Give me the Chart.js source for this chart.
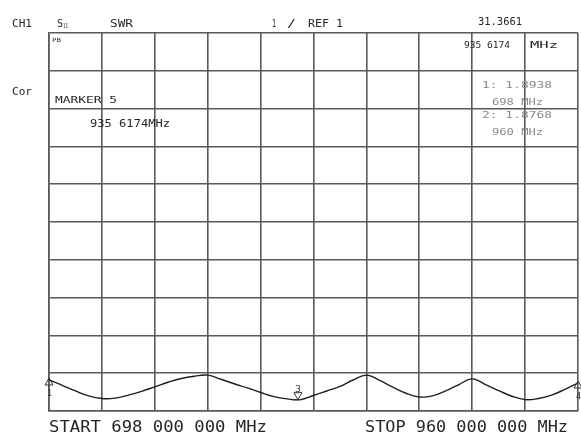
<!DOCTYPE html>
<html>
<head>
<meta charset="utf-8">
<script src="https://cdn.jsdelivr.net/npm/chart.js@4/dist/chart.umd.min.js"></script>
<style>
  html, body { margin: 0; padding: 0; background: #fff; }
  #wrap { width: 581px; height: 435px; }
</style>
</head>
<body>
<div id="wrap"><canvas id="chart" width="581" height="435"></canvas></div>
<script>
// sweep 698 .. 960 MHz, SWR trace (41 points)
const freqs = [698, 704.55, 711.1, 717.65, 724.2, 730.75, 737.3, 743.85, 750.4, 756.95,
  763.5, 770.05, 776.6, 783.15, 789.7, 796.25, 802.8, 809.35, 815.9, 822.45,
  829, 835.55, 842.1, 848.65, 855.2, 861.75, 868.3, 874.85, 881.4, 887.95,
  894.5, 901.05, 907.6, 914.15, 920.7, 927.25, 933.8, 940.35, 946.9, 953.45, 960];
const swr = [1.82, 1.68, 1.53, 1.40, 1.33, 1.34, 1.42, 1.52, 1.64, 1.76,
  1.86, 1.92, 1.95, 1.84, 1.72, 1.61, 1.49, 1.38, 1.32, 1.30,
  1.41, 1.53, 1.65, 1.82, 1.95, 1.81, 1.63, 1.47, 1.37, 1.40,
  1.53, 1.70, 1.85, 1.70, 1.54, 1.39, 1.30, 1.33, 1.42, 1.57, 1.74];

const markerLabels = ["1", "3", "4"];
const markerFreqs = [698, 821.3, 960];
const markerValues = [1.82, 1.30, 1.74];

const startFreq = 698;
const stopFreq = 960;
const refValue = 1;
const perDiv = 1;

const fitText = (ctx, text, x, y, size, width, color) => {
  ctx.save();
  ctx.font = `${size}px "DejaVu Sans Mono"`;
  ctx.fillStyle = color || "#262626";
  ctx.textBaseline = "alphabetic";
  const m = ctx.measureText(text).width;
  ctx.translate(x, y);
  ctx.scale(width / m, 1);
  ctx.fillText(text, 0, 0);
  ctx.restore();
};

const annotations = {
  id: "annotations",
  afterDraw(chart) {
    const ctx = chart.ctx;
    const xs = chart.scales.x;
    const ys = chart.scales.y;

    fitText(ctx, "CH1", 12, 27, 10, 20);
    fitText(ctx, "S", 57, 27, 10, 6);
    fitText(ctx, "11", 63, 28, 7, 5);
    fitText(ctx, "SWR", 110, 27, 10, 23);
    fitText(ctx, "1", 272, 27, 10, 4);
    fitText(ctx, "/", 287, 27, 10, 9);
    fitText(ctx, "REF 1", 308, 27, 10, 35);
    fitText(ctx, "31.3661", 478, 25, 10, 44);
    fitText(ctx, "935 6174", 464, 48, 9, 46);
    fitText(ctx, "MHz", 530, 48, 9, 28);
    fitText(ctx, "PB", 52, 42, 6, 9);
    fitText(ctx, "Cor", 12, 95, 10, 20);
    fitText(ctx, "MARKER 5", 55, 103, 9, 62);
    fitText(ctx, "935 6174MHz", 90, 127, 10, 80);
    fitText(ctx, "1: 1.8938", 482, 88, 9, 70, "#8a8a8a");
    fitText(ctx, "698 MHz", 492, 105, 9, 51, "#8a8a8a");
    fitText(ctx, "2: 1.8768", 482, 118, 9, 70, "#8a8a8a");
    fitText(ctx, "960 MHz", 492, 135, 9, 51, "#8a8a8a");
    fitText(ctx, `START ${startFreq} 000 000 MHz`, 49, 432, 16, 218);
    fitText(ctx, `STOP ${stopFreq} 000 000 MHz`, 365, 432, 16, 203);

    // marker symbols
    ctx.save();
    ctx.strokeStyle = "#333";
    ctx.lineWidth = 1;
    markerLabels.forEach((label, i) => {
      const px = xs.getPixelForValue(markerFreqs[i]);
      const py = ys.getPixelForValue(markerValues[i]);
      ctx.beginPath();
      if (label === "3") {
        ctx.moveTo(px - 4, py - 7);
        ctx.lineTo(px + 4, py - 7);
        ctx.lineTo(px, py);
        ctx.closePath();
        ctx.moveTo(px - 5, py);
        ctx.lineTo(px + 5, py);
        ctx.stroke();
        fitText(ctx, label, px - 3, py - 8, 9, 6, "#333");
      } else {
        ctx.moveTo(px, py - 2);
        ctx.lineTo(px - 4, py + 5);
        ctx.lineTo(px + 4, py + 5);
        ctx.closePath();
        ctx.stroke();
        fitText(ctx, label, px - 2, py + 16, 9, 5, "#333");
      }
    });
    ctx.restore();
  },
};

new Chart(document.getElementById("chart"), {
  type: "line",
  data: {
    datasets: [
      {
        data: freqs.map((f, i) => ({ x: f, y: swr[i] })),
        borderColor: "#1e1e1e",
        borderWidth: 1.4,
        pointRadius: 0,
        tension: 0.4,
        fill: false,
      },
    ],
  },
  options: {
    responsive: false,
    animation: false,
    layout: { padding: { left: 49, top: 33, right: 3, bottom: 24 } },
    plugins: { legend: { display: false }, tooltip: { enabled: false } },
    scales: {
      x: {
        type: "linear",
        min: startFreq,
        max: stopFreq,
        ticks: { display: false, stepSize: (stopFreq - startFreq) / 10 },
        grid: { color: "#595959", lineWidth: 1.6, drawTicks: false },
        border: { color: "#595959", width: 1.6 },
      },
      y: {
        min: refValue,
        max: refValue + 10 * perDiv,
        ticks: { display: false, stepSize: perDiv },
        grid: { color: "#595959", lineWidth: 1.6, drawTicks: false },
        border: { color: "#595959", width: 1.6 },
      },
    },
  },
  plugins: [annotations],
});
</script>
</body>
</html>
